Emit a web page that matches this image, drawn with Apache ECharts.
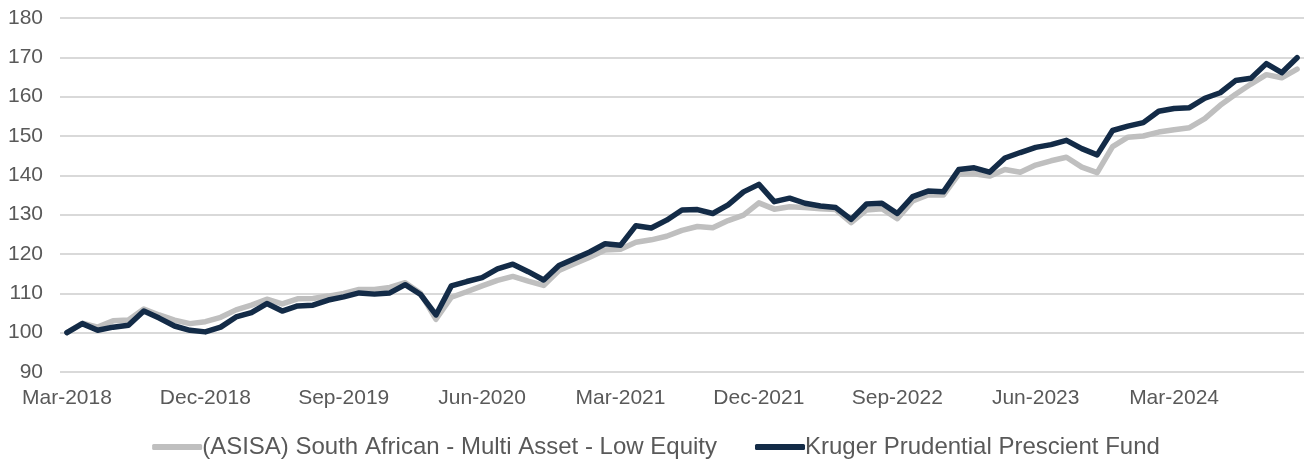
<!DOCTYPE html>
<html>
<head>
<meta charset="utf-8">
<script src="https://cdn.jsdelivr.net/npm/echarts@6/dist/echarts.min.js"></script>
<style>
  html, body { margin: 0; padding: 0; background: #fff; }
  #chart { width: 1312px; height: 461px; }
</style>
</head>
<body>
<div id="chart"></div>
<script>
// monthly index values, Mar-2018 .. Nov-2024 (base 100)
var kruger = [
  100, 102.3, 100.6, 101.4, 101.9, 105.5, 103.7, 101.7, 100.6, 100.2,
  101.4, 104, 105.1, 107.4, 105.5, 106.8, 107, 108.3, 109.1, 110.1,
  109.8, 110.1, 112.2, 109.7, 104.5, 111.9, 113, 114, 116.2, 117.4,
  115.5, 113.4, 117.1, 118.8, 120.5, 122.6, 122.2, 127.2, 126.6, 128.6,
  131.2, 131.3, 130.3, 132.5, 135.8, 137.7, 133.3, 134.2, 132.9, 132.2,
  131.8, 128.8, 132.7, 132.9, 130.3, 134.6, 136, 135.8, 141.5, 141.9,
  140.8, 144.4, 145.8, 147.1, 147.8, 148.9, 146.8, 145.2, 151.4, 152.5,
  153.4, 156.3, 157, 157.2, 159.6, 161, 164.1, 164.7, 168.4, 166.1,
  169.9
]
var asisa = [
  100, 102.4, 101.4, 103, 103.2, 106, 104.5, 103.2, 102.3, 102.8,
  103.9, 105.8, 107, 108.5, 107.3, 108.6, 108.7, 109.3, 110, 111,
  111, 111.5, 112.7, 110, 103.4, 109, 110.4, 111.9, 113.3, 114.3,
  113.1, 112, 115.8, 117.5, 119.2, 121, 121.2, 123, 123.6, 124.5,
  126, 127, 126.7, 128.5, 129.9, 133, 131.4, 132, 131.8, 131.5,
  131.3, 128, 131.2, 131.5, 129, 133.5, 135, 135, 140.3, 140.4,
  139.8, 141.5, 140.8, 142.6, 143.7, 144.6, 142.1, 140.7, 147.3, 149.7,
  150, 151, 151.6, 152.1, 154.4, 157.8, 160.6, 163.2, 165.6, 164.8,
  167
]
var tickIndex = [0, 9, 18, 27, 36, 45, 54, 63, 72]
var tickLabels = ['Mar-2018', 'Dec-2018', 'Sep-2019', 'Jun-2020', 'Mar-2021',
  'Dec-2021', 'Sep-2022', 'Jun-2023', 'Mar-2024']

var monNames = ['Jan', 'Feb', 'Mar', 'Apr', 'May', 'Jun', 'Jul', 'Aug', 'Sep', 'Oct', 'Nov', 'Dec']
var months = []
for (var i = 0; i < kruger.length; i++) {
  var m = 2 + i
  months.push(monNames[m % 12] + '-' + (2018 + Math.floor(m / 12)))
}

function pairs(arr) {
  return arr.map(function (v, i) { return [i, v] })
}

var font = 'Liberation Sans, Arial, sans-serif'
var chart = echarts.init(document.getElementById('chart'))
chart.setOption({
  animation: false,
  textStyle: { fontFamily: font },
  grid: { left: 60, right: 8, top: 18, bottom: 89 },
  tooltip: {
    trigger: 'axis',
    formatter: function (ps) {
      var s = months[ps[0].value[0]]
      ps.forEach(function (p) { s += '<br/>' + p.seriesName + ': ' + p.value[1] })
      return s
    }
  },
  legend: {
    top: 430,
    left: 'center',
    itemGap: 38,
    itemWidth: 50,
    itemHeight: 6,
    icon: 'roundRect',
    textStyle: { fontSize: 24, color: '#595959', fontFamily: font, padding: [0, 0, 0, -5] },
    data: ['(ASISA) South African - Multi Asset - Low Equity', 'Kruger Prudential Prescient Fund']
  },
  xAxis: {
    type: 'value',
    min: -0.45,
    max: 80.45,
    axisLine: { show: false },
    axisTick: { show: false },
    splitLine: { show: false },
    axisLabel: {
      customValues: tickIndex,
      formatter: function (v) { return tickLabels[tickIndex.indexOf(Math.round(v))] || '' },
      color: '#595959',
      fontSize: 21,
      margin: 16,
      fontFamily: font
    }
  },
  yAxis: {
    type: 'value',
    min: 90,
    max: 180,
    interval: 10,
    axisLine: { show: false },
    axisTick: { show: false },
    axisLabel: { color: '#595959', fontSize: 21, margin: 17, fontFamily: font },
    splitLine: { lineStyle: { color: '#d9d9d9', width: 2 } }
  },
  series: [
    {
      name: '(ASISA) South African - Multi Asset - Low Equity',
      type: 'line',
      showSymbol: false,
      symbol: 'none',
      itemStyle: { color: '#bfbfbf' },
      lineStyle: { color: '#bfbfbf', width: 5.5, cap: 'round', join: 'round' },
      data: pairs(asisa)
    },
    {
      name: 'Kruger Prudential Prescient Fund',
      type: 'line',
      showSymbol: false,
      symbol: 'none',
      itemStyle: { color: '#132b47' },
      lineStyle: { color: '#132b47', width: 5.5, cap: 'round', join: 'round' },
      data: pairs(kruger)
    }
  ]
})
</script>
</body>
</html>
